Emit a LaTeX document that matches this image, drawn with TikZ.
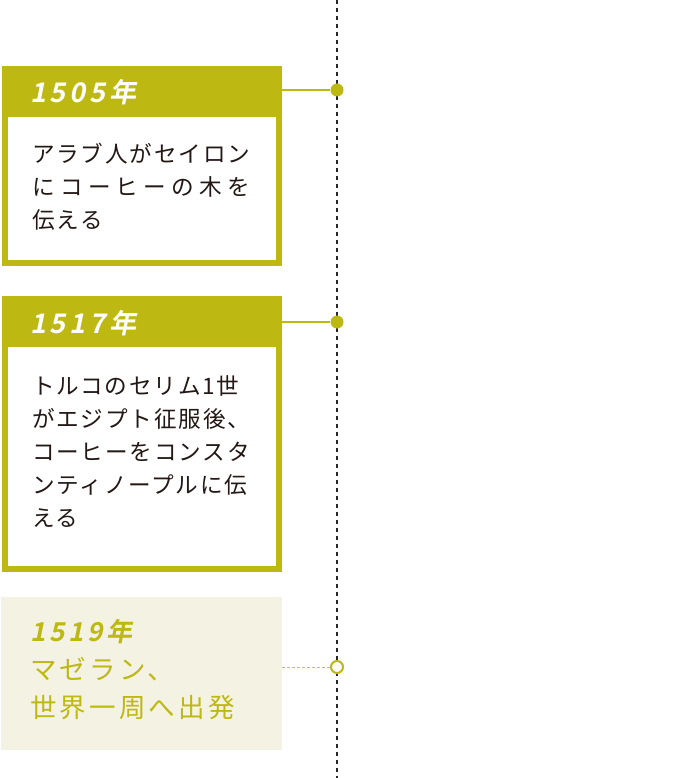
\documentclass[tikz,border=0pt]{standalone}
\usepackage{fontspec}
\setmainfont{Noto Sans CJK JP}
\newfontfamily\yearfont[FakeSlant=0.2,LetterSpace=14]{Noto Sans CJK JP Bold}
\newfontfamily\bodyfont[LetterSpace=8]{Noto Sans CJK JP}
\newfontfamily\notefont[LetterSpace=12]{Noto Sans CJK JP}
\definecolor{eventolive}{RGB}{189,185,18}
\definecolor{eventbeige}{RGB}{243,242,227}
\definecolor{eventink}{RGB}{35,24,21}
\tikzset{
  frame/.style={draw=eventolive, line width=6pt, fill=white, minimum width=274pt, inner sep=0pt},
  head/.style={fill=eventolive, minimum width=280pt, minimum height=51pt, inner sep=0pt},
  yeartext/.style={anchor=west, inner sep=0pt, font=\yearfont\fontsize{27pt}{30pt}\selectfont},
  bodytext/.style={anchor=north west, inner sep=0pt, align=left, text=eventink,
    font=\bodyfont\fontsize{22.6pt}{33pt}\selectfont},
  dot/.style={circle, fill=eventolive, minimum size=13pt, inner sep=0pt},
  hollowdot/.style={circle, draw=eventolive, line width=2pt, fill=white, minimum size=12pt, inner sep=0pt},
  link/.style={eventolive, line width=2pt},
  timeline/.style={black!85, line width=1.6pt, dash pattern=on 4pt off 4pt}
}
\begin{document}
\begin{tikzpicture}[x=1pt, y=-1pt]
    \useasboundingbox (0,0) rectangle (676,778);
    % timeline
    \coordinate (top) at (337,0);
    \coordinate (bottom) at (337,778);
    \draw[timeline] (top) -- (bottom);

    % 1505
    \node[frame, minimum height=194pt] (box1) at (142,166) {};
    \node[head] (head1) at (142,91.5) {};
    \node[yeartext, text=white] (year1) at (30,92) {1505年};
    \node[bodytext] (text1) at (32,143) {アラブ人がセイロン\\\makebox[218pt][s]{に コ ー ヒ ー の 木 を}\\伝える};
    \node[dot] (dot1) at (337,90) {};
    \draw[link] (box1.east |- dot1) -- (dot1);

    % 1517
    \node[frame, minimum height=270pt] (box2) at (142,434) {};
    \node[head] (head2) at (142,321.5) {};
    \node[yeartext, text=white] (year2) at (30,323) {1517年};
    \node[bodytext] (text2) at (32,375) {トルコのセリム1世\\がエジプト征服後、\\コーヒーをコンスタ\\ンティノープルに伝\\える};
    \node[dot] (dot2) at (337,322) {};
    \draw[link] (box2.east |- dot2) -- (dot2);

    % 1519
    \node[fill=eventbeige, minimum width=281pt, minimum height=153pt, inner sep=0pt] (box3) at (141.5,673.5) {};
    \node[yeartext, text=eventolive, font=\yearfont\fontsize{26pt}{30pt}\selectfont] (year3) at (30,632) {1519年};
    \node[bodytext, text=eventolive, font=\notefont\fontsize{26.5pt}{38pt}\selectfont] (text3) at (30,657) {マゼラン、\\世界一周へ出発};
    \node[hollowdot] (dot3) at (337,667) {};
    \draw[eventolive!80, line width=0.8pt, dash pattern=on 3pt off 2pt] (box3.east |- dot3) -- (dot3);
\end{tikzpicture}
\end{document}
